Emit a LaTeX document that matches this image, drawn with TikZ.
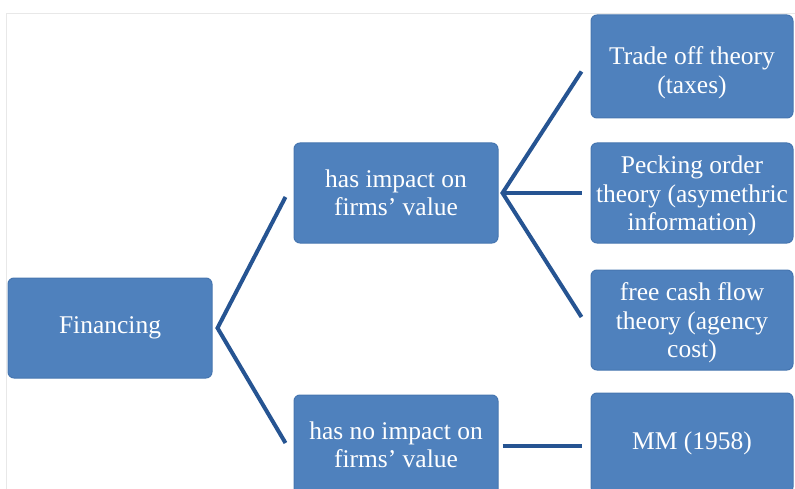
\documentclass[tikz,border=0pt]{standalone}
\usepackage{fontspec}
\setmainfont{Liberation Serif}
\definecolor{boxfill}{RGB}{79,129,189}
\definecolor{boxline}{RGB}{70,118,176}
\definecolor{conncol}{RGB}{38,84,146}
\definecolor{framecol}{RGB}{232,232,232}
\tikzset{
  txt/.style={text=white, align=center, font=\fontsize{25.5}{28.5}\selectfont},
  blk/.style={rectangle, rounded corners=6pt, fill=boxfill, draw=boxline, line width=1pt,
    inner sep=0pt, txt},
  lbl/.style={txt, inner sep=0pt},
  conn/.style={draw=conncol, line width=4pt}
}
\begin{document}
\begin{tikzpicture}[x=1pt,y=-1pt]
\useasboundingbox (0,0) rectangle (795,489);
\draw[framecol, line width=1pt] (6,489) -- (6,14) -- (795,14);
\node[blk, minimum width=204pt, minimum height=100pt] (fin) at (110,328) {Financing};
\node[blk, minimum width=204pt, minimum height=100pt] (imp) at (396,193) {has impact on\\firms’ value};
\node[blk, minimum width=204pt, minimum height=100pt] (noimp) at (396,445) {has no impact on\\firms’ value};
\node[blk, minimum width=202pt, minimum height=103pt,
  label={[lbl,yshift=-6pt]center:Trade off theory\\(taxes)}] (trade) at (692,66.5) {};
\node[blk, minimum width=202pt, minimum height=100pt,
  label={[lbl,yshift=-3pt]center:Pecking order\\theory (asymethric\\information)}] (peck) at (692,193) {};
\node[blk, minimum width=202pt, minimum height=100pt,
  label={[lbl,yshift=-3pt]center:free cash flow\\theory (agency\\cost)}] (free) at (692,320) {};
\node[blk, minimum width=202pt, minimum height=100pt] (mm) at (692,443) {MM (1958)};
\draw[conn] ([xshift=-8pt,yshift=-4pt]imp.west) -- ([xshift=5pt]fin.east) -- ([xshift=-8pt,yshift=2pt]noimp.west);
\draw[conn] ([xshift=-9pt,yshift=-5pt]trade.west) -- ([xshift=4pt]imp.east) -- ([xshift=-9pt,yshift=3pt]free.west);
\draw[conn] ([xshift=4pt]imp.east) -- ([xshift=-9pt]peck.west);
\draw[conn] ([xshift=4pt,yshift=-1pt]noimp.east) -- ([xshift=-9pt,yshift=-3pt]mm.west);
\end{tikzpicture}
\end{document}
